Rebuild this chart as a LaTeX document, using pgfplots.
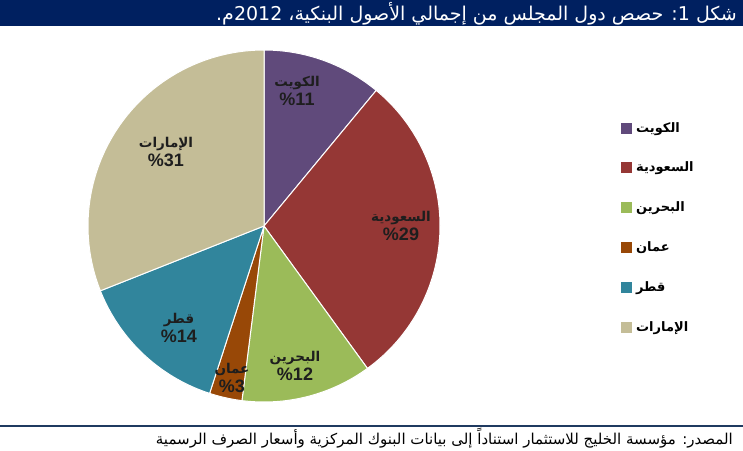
\documentclass[border=0pt]{standalone}
\usepackage{pgfplots}
\pgfplotsset{compat=1.18}
\usepackage{fontspec}
\setmainfont{Liberation Sans}
\newfontfamily\arabicfont[Script=Arabic]{DejaVu Sans}
\TeXXeTstate=1
\definecolor{navy}{HTML}{002060}
\definecolor{footline}{HTML}{1F3A60}
\definecolor{ckuw}{HTML}{604A7B}
\definecolor{csau}{HTML}{953735}
\definecolor{cbah}{HTML}{9BBB59}
\definecolor{coma}{HTML}{984807}
\definecolor{cqat}{HTML}{31859C}
\definecolor{cuae}{HTML}{C4BD97}
\definecolor{lbl}{HTML}{1E1E1E}
\begin{document}
\begin{tikzpicture}
\path[use as bounding box] (0,0) rectangle (743pt,-450pt);
\fill[navy] (0,0) rectangle (743pt,-26pt);
\node[anchor=base east, text=white, inner sep=0pt, font=\arabicfont\fontsize{19}{22}\selectfont] at (737pt,-20pt)
  {\beginR شكل \beginL1\endL: حصص دول المجلس من إجمالي الأصول البنكية، \beginL2012\endL م.\endR};
\draw[footline, line width=1.3pt] (0,-426pt) -- (743pt,-426pt);
\node[anchor=base east, inner sep=0pt, font=\arabicfont\fontsize{15}{17}\selectfont] at (733pt,-444pt)
  {\beginR المصدر: مؤسسة الخليج للاستثمار استناداً إلى بيانات البنوك المركزية وأسعار الصرف الرسمية\endR};
\begin{axis}[
  at={(264pt,-226pt)}, anchor=center,
  width=352pt, height=352pt, scale only axis,
  xmin=-1, xmax=1, ymin=-1, ymax=1,
  hide axis, clip=false,
  legend image code/.code={\fill[#1, draw=none] (0pt,-5.5pt) rectangle (11pt,5.5pt);},
  legend style={draw=none, fill=none, inner sep=0pt,
    at={(1.514,0.796)}, anchor=north west,
    row sep=27.8pt,
    nodes={inner sep=0pt, text height=10pt, text depth=2pt, font=\arabicfont\bfseries\fontsize{13}{15}\selectfont},
    /tikz/every odd column/.append style={column sep=4pt}},
  legend cell align=left,
]
\addplot[fill=ckuw, draw=white, line width=1pt, domain=50.4:90, samples=40] ({cos(x)},{sin(x)}) -- (axis cs:0,0) -- cycle;
\addlegendentry{\beginR الكويت\endR}
\addplot[fill=csau, draw=white, line width=1pt, domain=-54:50.4, samples=80] ({cos(x)},{sin(x)}) -- (axis cs:0,0) -- cycle;
\addlegendentry{\beginR السعودية\endR}
\addplot[fill=cbah, draw=white, line width=1pt, domain=-97.2:-54, samples=40] ({cos(x)},{sin(x)}) -- (axis cs:0,0) -- cycle;
\addlegendentry{\beginR البحرين\endR}
\addplot[fill=coma, draw=white, line width=1pt, domain=-108:-97.2, samples=20] ({cos(x)},{sin(x)}) -- (axis cs:0,0) -- cycle;
\addlegendentry{\beginR عمان\endR}
\addplot[fill=cqat, draw=white, line width=1pt, domain=-158.4:-108, samples=40] ({cos(x)},{sin(x)}) -- (axis cs:0,0) -- cycle;
\addlegendentry{\beginR قطر\endR}
\addplot[fill=cuae, draw=white, line width=1pt, domain=-270:-158.4, samples=80] ({cos(x)},{sin(x)}) -- (axis cs:0,0) -- cycle;
\addlegendentry{\beginR الإمارات\endR}
\end{axis}
\tikzset{lab/.style={align=center, text=lbl, inner sep=0pt, font=\arabicfont\bfseries\fontsize{13.5}{19.5}\selectfont}}
\newcommand\pct[1]{{\normalfont\bfseries\fontsize{18}{19.5}\selectfont\%#1}}
\node[lab] at (297pt,-91pt) {\beginR الكويت\endR\\\pct{11}};
\node[lab] at (401pt,-226pt) {\beginR السعودية\endR\\\pct{29}};
\node[lab] at (295pt,-366pt) {\beginR البحرين\endR\\\pct{12}};
\node[lab] at (232pt,-378pt) {\beginR عمان\endR\\\pct{3}};
\node[lab] at (179pt,-328pt) {\beginR قطر\endR\\\pct{14}};
\node[lab] at (166pt,-152pt) {\beginR الإمارات\endR\\\pct{31}};
\end{tikzpicture}
\end{document}
